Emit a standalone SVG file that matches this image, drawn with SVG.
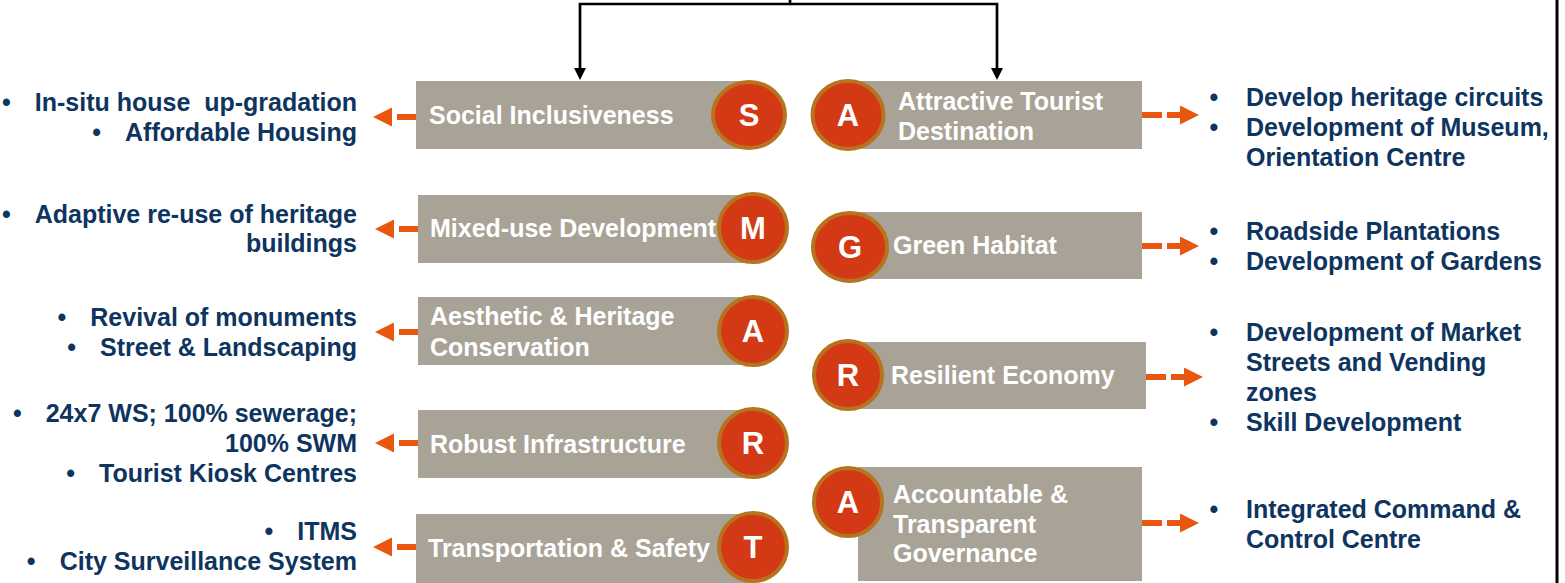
<svg xmlns="http://www.w3.org/2000/svg" width="1565" height="583" viewBox="0 0 1565 583">
<style>
.box{fill:#A9A397}
.badge{fill:#D33915;stroke:#B8731F;stroke-width:4}
.letter{font-family:"Liberation Sans",Arial,sans-serif;font-weight:bold;font-size:31px;fill:#FFFFFF;text-anchor:middle}
.lbl{font-family:"Liberation Sans",Arial,sans-serif;font-weight:bold;font-size:25px;fill:#FFFFFF}
.item{font-family:"Liberation Sans",Arial,sans-serif;font-weight:bold;font-size:25px;fill:#0E3460}
.itemR{font-family:"Liberation Sans",Arial,sans-serif;font-weight:bold;font-size:25px;fill:#0E3460;text-anchor:end}
.bul{font-family:"Liberation Sans",Arial,sans-serif;font-weight:bold;font-size:25px;fill:#0E3460;text-anchor:middle}
.dashL{fill:none;stroke:#E9560F;stroke-width:6;stroke-dasharray:19,5;marker-end:url(#oh)}
.dashR{fill:none;stroke:#E9560F;stroke-width:6;stroke-dasharray:20,5;marker-end:url(#oh)}
.blk{fill:none;stroke:#000000;stroke-width:2.7;marker-end:url(#bh)}
</style>
<defs>
<marker id="oh" markerUnits="userSpaceOnUse" markerWidth="20" markerHeight="20" refX="0" refY="9.5" orient="auto">
<path d="M0,0 L19,9.5 L0,19 Z" fill="#E9560F"/>
</marker>
<marker id="bh" markerUnits="userSpaceOnUse" markerWidth="13" markerHeight="13" refX="0" refY="6" orient="auto">
<path d="M0,0 L12,6 L0,12 Z" fill="#000000"/>
</marker>
</defs>
<rect x="0" y="0" width="1565" height="583" fill="#FFFFFF"/>
<line x1="1557" y1="0" x2="1557" y2="583" stroke="#000000" stroke-width="3"/>

<g id="connectors">
<path class="blk" d="M790,0 V4 H580 V68"/>
<path class="blk" d="M790,4 H997 V68"/>
<path class="dashL" d="M416,117 H392"/>
<path class="dashL" d="M418,229 H394"/>
<path class="dashL" d="M418,332 H394"/>
<path class="dashL" d="M418,443 H394"/>
<path class="dashL" d="M416,547 H392"/>
<path class="dashR" d="M1142,115 H1180"/>
<path class="dashR" d="M1142,246 H1180"/>
<path class="dashR" d="M1146,377 H1184"/>
<path class="dashR" d="M1142,523 H1180"/>
</g>

<g id="node-social">
<rect class="box" x="416" y="81" width="340" height="68"/>
<ellipse class="badge" cx="749" cy="115" rx="36" ry="33"/>
<text class="letter" x="749" y="126">S</text>
<text class="lbl" x="429" y="124">Social Inclusiveness</text>
</g>
<g id="node-mixed">
<rect class="box" x="418" y="195" width="338" height="68"/>
<circle class="badge" cx="753" cy="228" r="34"/>
<text class="letter" x="753" y="239">M</text>
<text class="lbl" x="430" y="237">Mixed-use Development</text>
</g>
<g id="node-aesthetic">
<rect class="box" x="418" y="297" width="338" height="68"/>
<circle class="badge" cx="753" cy="331" r="34"/>
<text class="letter" x="753" y="342">A</text>
<text class="lbl" x="430" y="325">Aesthetic &amp; Heritage</text>
<text class="lbl" x="430" y="356">Conservation</text>
</g>
<g id="node-robust">
<rect class="box" x="418" y="410" width="338" height="68"/>
<circle class="badge" cx="753" cy="443" r="34"/>
<text class="letter" x="753" y="454">R</text>
<text class="lbl" x="430" y="453">Robust Infrastructure</text>
</g>
<g id="node-transport">
<rect class="box" x="416" y="514" width="340" height="69"/>
<circle class="badge" cx="753" cy="547" r="34"/>
<text class="letter" x="753" y="558">T</text>
<text class="lbl" x="428" y="557">Transportation &amp; Safety</text>
</g>

<g id="node-attractive">
<rect class="box" x="850" y="81" width="292" height="68"/>
<ellipse class="badge" cx="848" cy="115" rx="35.5" ry="34"/>
<text class="letter" x="848" y="126">A</text>
<text class="lbl" x="898" y="110">Attractive Tourist</text>
<text class="lbl" x="898" y="140">Destination</text>
</g>
<g id="node-green">
<rect class="box" x="850" y="212" width="292" height="67"/>
<ellipse class="badge" cx="850" cy="247" rx="37" ry="34"/>
<text class="letter" x="850" y="258">G</text>
<text class="lbl" x="893" y="254">Green Habitat</text>
</g>
<g id="node-resilient">
<rect class="box" x="850" y="342" width="296" height="67"/>
<circle class="badge" cx="848" cy="375" r="34"/>
<text class="letter" x="848" y="386">R</text>
<text class="lbl" x="891" y="384">Resilient Economy</text>
</g>
<g id="node-accountable">
<rect class="box" x="858" y="467" width="284" height="114"/>
<circle class="badge" cx="848" cy="502" r="34"/>
<text class="letter" x="848" y="513">A</text>
<text class="lbl" x="893" y="503">Accountable &amp;</text>
<text class="lbl" x="893" y="533">Transparent</text>
<text class="lbl" x="893" y="562">Governance</text>
</g>

<g id="list-social">
<text class="itemR" x="357" y="111" xml:space="preserve"><tspan>•</tspan><tspan dx="24">In-situ house  up-gradation</tspan></text>
<text class="itemR" x="357" y="141"><tspan>•</tspan><tspan dx="24">Affordable Housing</tspan></text>
</g>
<g id="list-mixed">
<text class="itemR" x="357" y="223"><tspan>•</tspan><tspan dx="24">Adaptive re-use of heritage</tspan></text>
<text class="itemR" x="357" y="252">buildings</text>
</g>
<g id="list-aesthetic">
<text class="itemR" x="357" y="326"><tspan>•</tspan><tspan dx="24">Revival of monuments</tspan></text>
<text class="itemR" x="357" y="356"><tspan>•</tspan><tspan dx="24">Street &amp; Landscaping</tspan></text>
</g>
<g id="list-robust">
<text class="itemR" x="357" y="422"><tspan>•</tspan><tspan dx="24">24x7 WS; 100% sewerage;</tspan></text>
<text class="itemR" x="357" y="452">100% SWM</text>
<text class="itemR" x="357" y="482"><tspan>•</tspan><tspan dx="24">Tourist Kiosk Centres</tspan></text>
</g>
<g id="list-transport">
<text class="itemR" x="357" y="540"><tspan>•</tspan><tspan dx="24">ITMS</tspan></text>
<text class="itemR" x="357" y="570"><tspan>•</tspan><tspan dx="24">City Surveillance System</tspan></text>
</g>

<g id="list-attractive">
<text class="bul" x="1214" y="106">•</text>
<text class="item" x="1246" y="106">Develop heritage circuits</text>
<text class="bul" x="1214" y="136">•</text>
<text class="item" x="1246" y="136">Development of Museum,</text>
<text class="item" x="1246" y="166">Orientation Centre</text>
</g>
<g id="list-green">
<text class="bul" x="1214" y="240">•</text>
<text class="item" x="1246" y="240">Roadside Plantations</text>
<text class="bul" x="1214" y="270">•</text>
<text class="item" x="1246" y="270">Development of Gardens</text>
</g>
<g id="list-resilient">
<text class="bul" x="1214" y="341">•</text>
<text class="item" x="1246" y="341">Development of Market</text>
<text class="item" x="1246" y="371">Streets and Vending</text>
<text class="item" x="1246" y="401">zones</text>
<text class="bul" x="1214" y="431">•</text>
<text class="item" x="1246" y="431">Skill Development</text>
</g>
<g id="list-accountable">
<text class="bul" x="1214" y="518">•</text>
<text class="item" x="1246" y="518">Integrated Command &amp;</text>
<text class="item" x="1246" y="548">Control Centre</text>
</g>
</svg>
